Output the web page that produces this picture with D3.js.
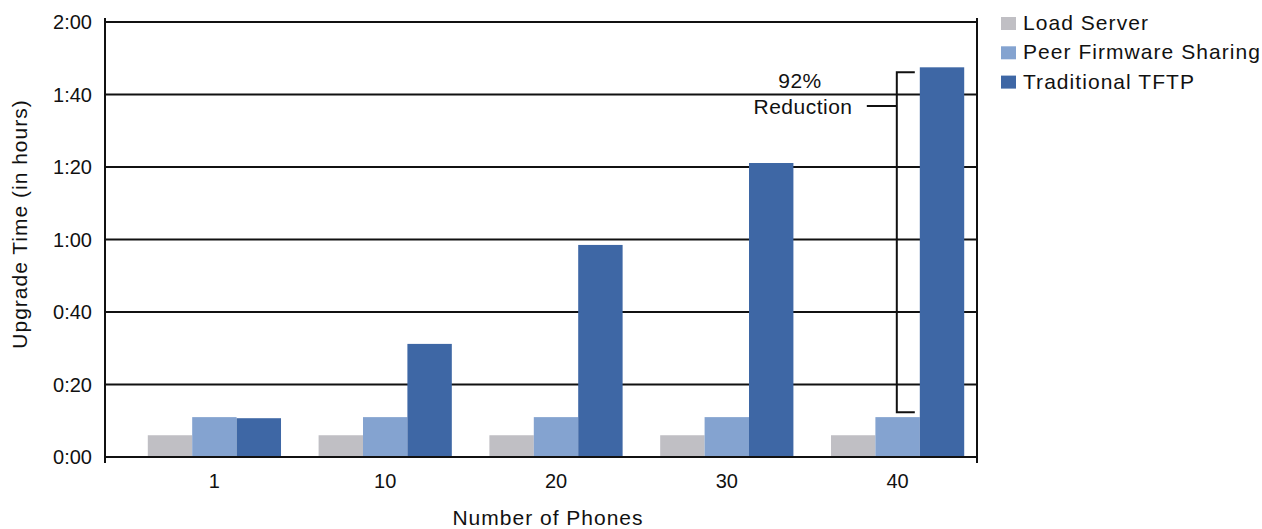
<!DOCTYPE html>
<html>
<head>
<meta charset="utf-8">
<script src="https://cdn.jsdelivr.net/npm/d3@7"></script>
<style>
  html, body { margin: 0; padding: 0; background: #fff; }
  svg text { font-family: "Liberation Sans", Arial, Helvetica, sans-serif; fill: #111; }
</style>
</head>
<body>
<svg id="chart" width="1262" height="529"></svg>
<script>
// Upgrade time (minutes) per phone count for each method
const phones = ["1", "10", "20", "30", "40"];
const seriesNames = ["Load Server", "Peer Firmware Sharing", "Traditional TFTP"];
const loadServer = [6, 6, 6, 6, 6];
const peerSharing = [11, 11, 11, 11, 11];
const traditionalTftp = [10.7, 31.2, 58.5, 81.1, 107.5];
const seriesColors = ["#c0bfc4", "#84a3d0", "#3e67a5"];
const yTicks = [0, 20, 40, 60, 80, 100, 120];
const annotationLines = ["92%", "Reduction"];

const seriesValues = [loadServer, peerSharing, traditionalTftp];
const table = phones.map((p, i) => ({
  phones: p,
  values: seriesNames.map((s, j) => ({ series: s, value: seriesValues[j][i] }))
}));

const svg = d3.select("#chart");
const plotLeft = 105, plotRight = 977, plotTop = 22, plotBottom = 457;

const y = d3.scaleLinear().domain([0, 120]).range([plotBottom, plotTop]);
const x0 = d3.scaleBand().domain(phones).range([129, 983]).paddingInner(0.22).paddingOuter(0.11);
const x1 = d3.scaleBand().domain(seriesNames).range([0, x0.bandwidth()]);
const color = d3.scaleOrdinal().domain(seriesNames).range(seriesColors);

const fmt = m => Math.floor(m / 60) + ":" + String(m % 60).padStart(2, "0");

// Horizontal grid lines
svg.append("g")
  .selectAll("line")
  .data(yTicks)
  .join("line")
  .attr("x1", plotLeft).attr("x2", plotRight)
  .attr("y1", d => y(d)).attr("y2", d => y(d))
  .attr("stroke", "#111").attr("stroke-width", 2);

// Y tick labels
svg.append("g")
  .selectAll("text")
  .data(yTicks)
  .join("text")
  .attr("x", 92).attr("y", d => y(d) + 7)
  .attr("text-anchor", "end")
  .attr("font-size", 20)
  .text(fmt);

// Bars
const groups = svg.append("g")
  .selectAll("g")
  .data(table)
  .join("g")
  .attr("transform", d => `translate(${x0(d.phones)},0)`);

groups.selectAll("rect")
  .data(d => d.values)
  .join("rect")
  .attr("x", d => x1(d.series))
  .attr("width", x1.bandwidth())
  .attr("y", d => y(d.value))
  .attr("height", d => y(0) - y(d.value))
  .attr("fill", d => color(d.series));

// Baseline and frame verticals
svg.append("line")
  .attr("x1", plotLeft).attr("x2", plotRight)
  .attr("y1", y(0)).attr("y2", y(0))
  .attr("stroke", "#111").attr("stroke-width", 2);
[plotLeft, plotRight].forEach(xv => {
  svg.append("line")
    .attr("x1", xv).attr("x2", xv)
    .attr("y1", plotTop - 4).attr("y2", plotBottom + 6)
    .attr("stroke", "#111").attr("stroke-width", 2);
});

// X tick labels
svg.append("g")
  .selectAll("text")
  .data(phones)
  .join("text")
  .attr("x", d => x0(d) + x0.bandwidth() / 2)
  .attr("y", 488)
  .attr("text-anchor", "middle")
  .attr("font-size", 20)
  .text(d => d);

// Axis titles
svg.append("text")
  .attr("x", 548).attr("y", 525)
  .attr("text-anchor", "middle")
  .attr("font-size", 21)
  .attr("letter-spacing", 1)
  .text("Number of Phones");

svg.append("text")
  .attr("transform", `translate(27,224) rotate(-90)`)
  .attr("text-anchor", "middle")
  .attr("font-size", 21)
  .attr("letter-spacing", 1)
  .text("Upgrade Time (in hours)");

// Legend
const legend = svg.append("g")
  .selectAll("g")
  .data(seriesNames)
  .join("g")
  .attr("transform", (d, i) => `translate(1001,${17 + i * 29.3})`);
legend.append("rect")
  .attr("width", 15).attr("height", 13)
  .attr("fill", d => color(d));
legend.append("text")
  .attr("x", 22).attr("y", 13)
  .attr("font-size", 21)
  .attr("letter-spacing", 1.05)
  .text(d => d);

// Reduction bracket on the last group
const last = table[table.length - 1];
const bx = x0(last.phones) + x1("Traditional TFTP") - 23;
const bTop = y(last.values[2].value) + 5;
const bBot = y(last.values[1].value) - 5;
const bMid = 106;
const bracket = svg.append("g").attr("stroke", "#111").attr("stroke-width", 2).attr("fill", "none");
bracket.append("path")
  .attr("d", `M${bx + 18},${bTop} H${bx} V${bBot} H${bx + 18}`);
bracket.append("line")
  .attr("x1", bx - 30).attr("x2", bx)
  .attr("y1", bMid).attr("y2", bMid);

svg.append("g")
  .selectAll("text")
  .data(annotationLines)
  .join("text")
  .attr("x", (d, i) => i === 0 ? 800 : 803)
  .attr("y", (d, i) => 88 + i * 26)
  .attr("text-anchor", "middle")
  .attr("font-size", 21)
  .attr("letter-spacing", 0.5)
  .text(d => d);
</script>
</body>
</html>
